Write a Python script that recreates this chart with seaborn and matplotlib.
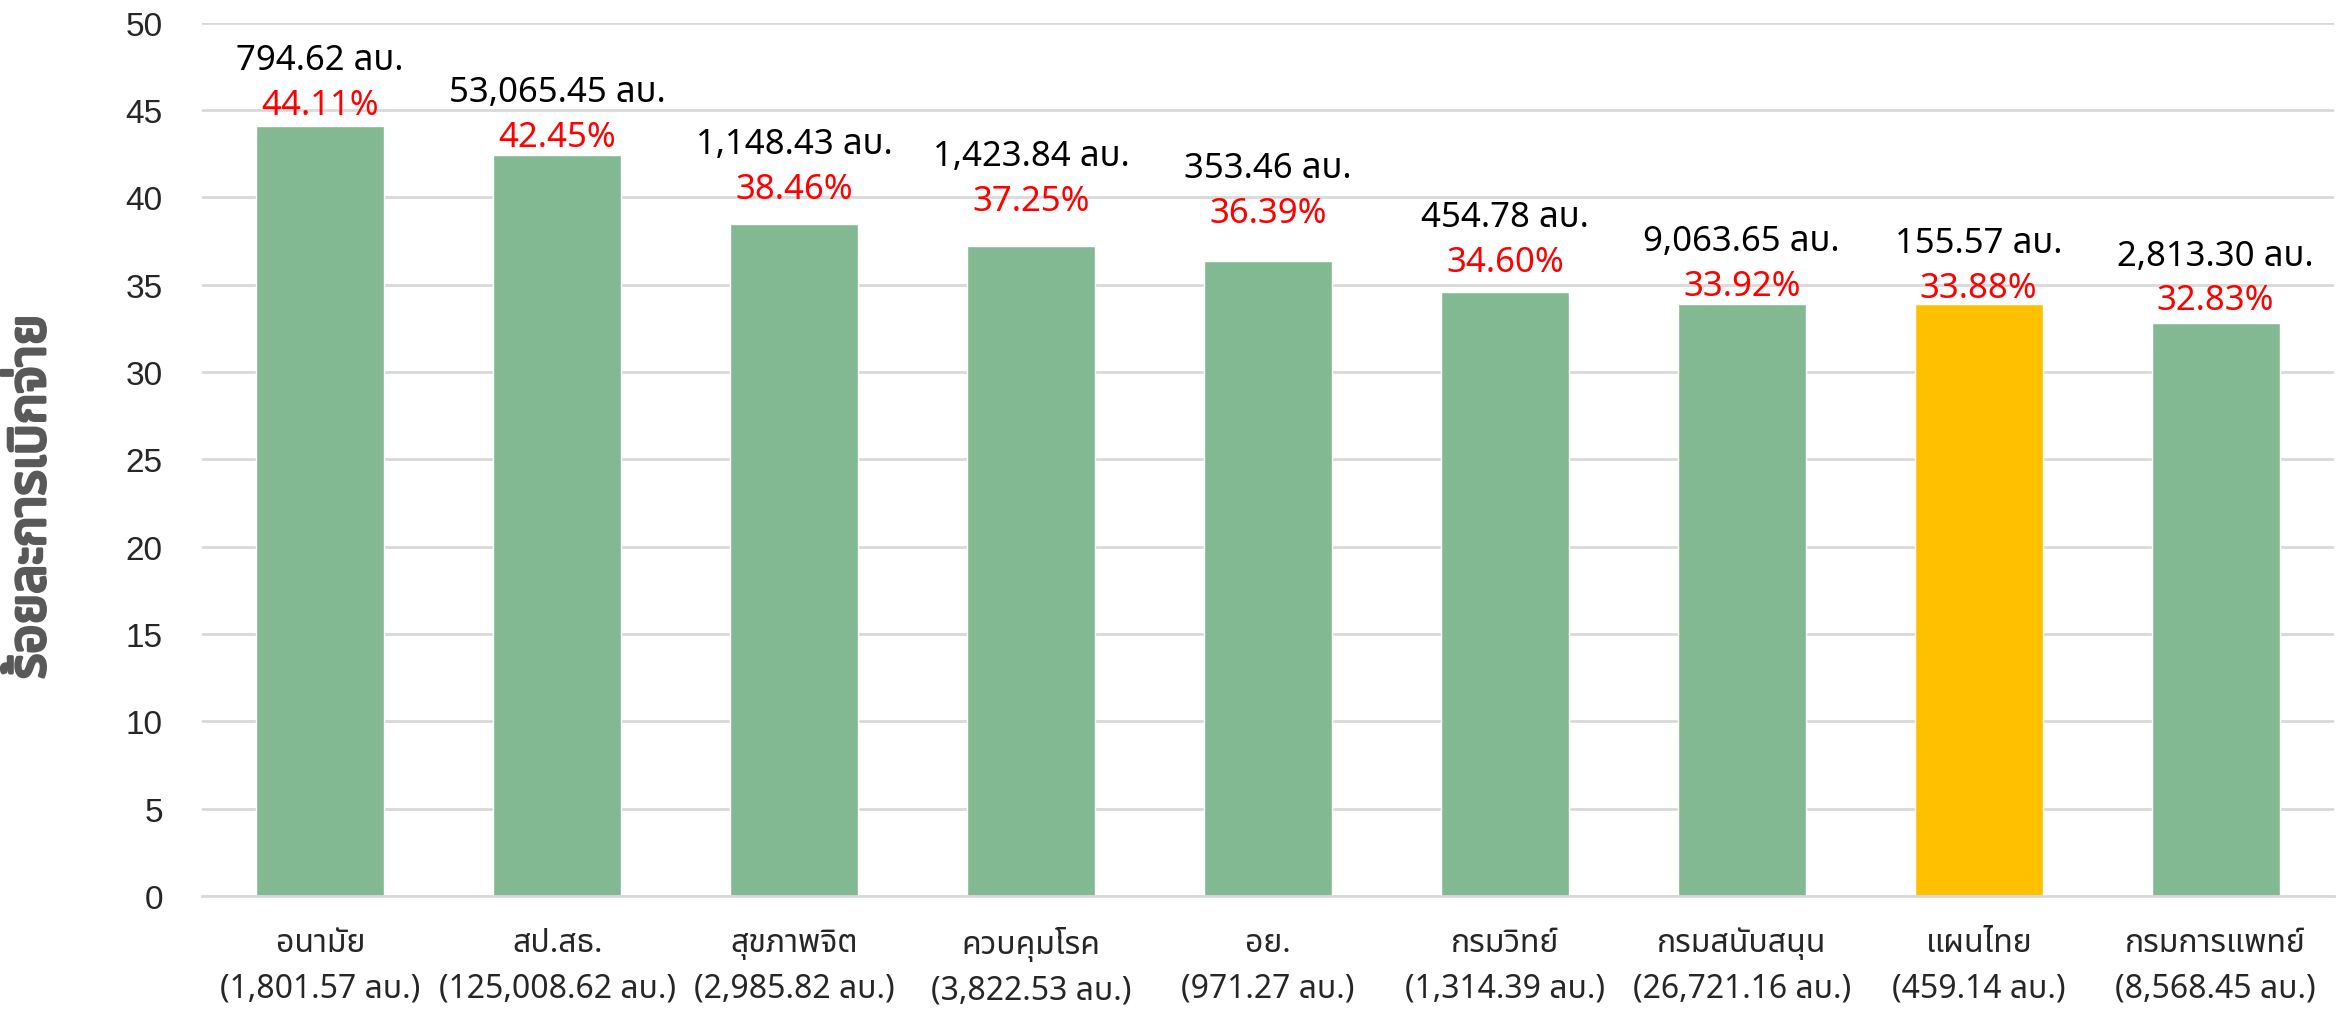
import matplotlib
matplotlib.use("Agg")
import matplotlib.pyplot as plt
import matplotlib.patheffects as pe
import seaborn as sns
import pandas as pd
import numpy as np

categories = ["อนามัย", "สป.สธ.", "สุขภาพจิต", "ควบคุมโรค", "อย.", "กรมวิทย์", "กรมสนับสนุน", "แผนไทย", "กรมการแพทย์"]
budgets = ["1,801.57", "125,008.62", "2,985.82", "3,822.53", "971.27", "1,314.39", "26,721.16", "459.14", "8,568.45"]
percent = [44.11, 42.45, 38.46, 37.25, 36.39, 34.60, 33.92, 33.88, 32.83]
spent = ["794.62", "53,065.45", "1,148.43", "1,423.84", "353.46", "454.78", "9,063.65", "155.57", "2,813.30"]
highlight = "แผนไทย"
yticks = [0, 5, 10, 15, 20, 25, 30, 35, 40, 45, 50]
ylabel = "ร้อยละการเบิกจ่าย"

# label gap above bar (data units), layout only
label_gap = [1.2, 1.03, 2.05, 2.57, 2.74, 1.71, 1.03, 0.94, 1.28]

sns.set_theme(style="white")
fams = ["Noto Sans Thai", "Noto Sans Thai UI", "Loma", "Garuda", "Tlwg Typo", "Kinnari", "Waree", "Noto Sans", "DejaVu Sans"]
plt.rcParams["font.family"] = fams

df = pd.DataFrame({"cat": categories, "pct": percent})
green = "#82B992"
yellow = "#FFC000"
palette = {c: (yellow if c == highlight else green) for c in categories}

fig = plt.figure(figsize=(23.43, 10.12), dpi=100)
ax = fig.add_axes([0.0861, 0.1137, 0.9101, 0.8627])
sns.barplot(data=df, x="cat", y="pct", hue="cat", palette=palette, legend=False,
            width=0.54, ax=ax, saturation=1)

ax.set_ylim(0, 50)
ax.set_xlim(-0.5, len(categories) - 0.5)
ax.set_yticks(yticks)
ax.set_yticklabels([str(t) for t in yticks], fontsize=24, family=["Liberation Sans", "DejaVu Sans"])
ax.yaxis.grid(True, color="#d9d9d9", linewidth=2)
ax.set_axisbelow(True)
for s in ["left", "right", "top"]:
    ax.spines[s].set_visible(False)
ax.spines["bottom"].set_color("#d9d9d9")
ax.spines["bottom"].set_linewidth(2)
ax.tick_params(axis="y", length=0, pad=28)

xt = [f"{c}\n({b} ลบ.)" for c, b in zip(categories, budgets)]
ax.set_xticks(range(len(categories)))
ax.set_xticklabels(xt, fontsize=23, linespacing=1.5)
ax.tick_params(axis="x", which="major", length=0, pad=22)
ax.set_xticks(np.arange(-0.5, len(categories), 1.0), minor=True)
ax.tick_params(axis="x", which="minor", length=11, width=1.5, color="#d9d9d9")
ax.set_xlabel("")
ax.set_ylabel(ylabel, fontsize=37, fontweight="bold", color="#595959",
              path_effects=[pe.withStroke(linewidth=2.5, foreground="#595959")])
ax.yaxis.set_label_coords(-0.068, 0.457)

for i, (p, s, g) in enumerate(zip(percent, spent, label_gap)):
    y = p + g
    ax.text(i, y, f"{p:.2f}%", ha="center", va="center", color="red", fontsize=25)
    ax.annotate(f"{s} ลบ.", xy=(i, y), xytext=(0, 32), textcoords="offset points",
                ha="center", va="center", color="black", fontsize=25)

fig.savefig("out.png", dpi=100)
